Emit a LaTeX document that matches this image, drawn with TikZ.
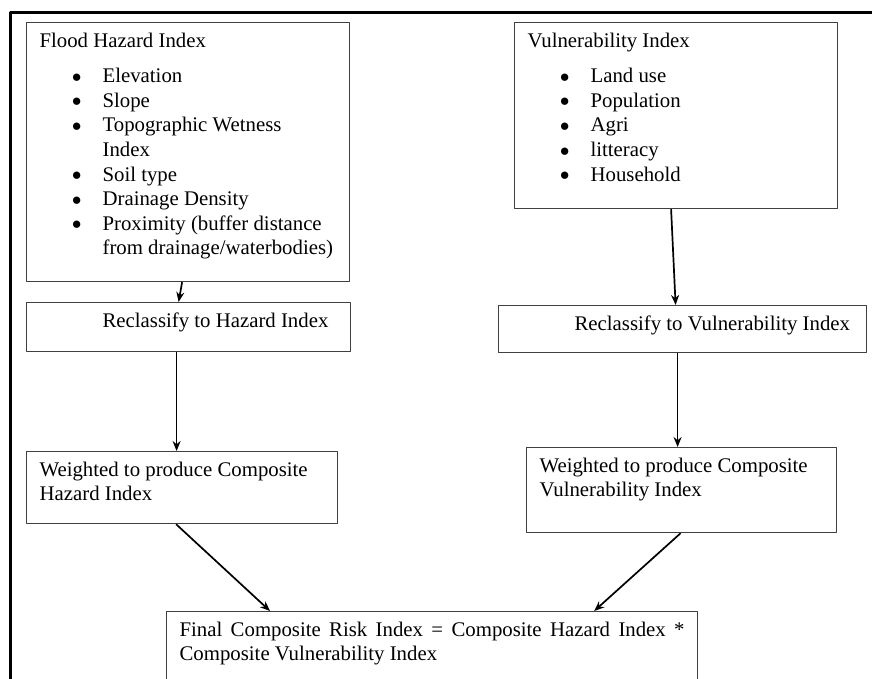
\documentclass[tikz,border=0pt]{standalone}
\usepackage{fontspec}
\setmainfont{Liberation Serif}
\usetikzlibrary{arrows.meta}
\newcommand{\panel}[3]{\parbox[c][#2][t]{#1}{\vspace*{10pt}#3}}
\newcommand{\bul}{\hspace*{32pt}\makebox[31pt][l]{\raisebox{0.3pt}{\fontsize{17}{17}\selectfont ●}}}

\begin{document}
\begin{tikzpicture}[x=1pt, y=-1pt, line join = round,
  box/.style={draw=black!75, line width=1.2pt, anchor=north west, inner xsep=13pt, inner ysep=0pt,
    font={\fontsize{20.8}{24.6}\selectfont}},
  flow/.style={-{Stealth[length=10pt, width=8pt]}, line width=1.7pt}]
\useasboundingbox (0,0) rectangle (872,679);
\clip (0,0) rectangle (872,679);
\draw[line width=3pt] (10,13) rectangle (900,720);

\node[box] (flood) at (26,22) {\panel{297pt}{259pt}{Flood Hazard Index\\[11pt]
  \bul Elevation\\
  \bul Slope\\
  \bul Topographic Wetness\\
  \hspace*{63pt}Index\\
  \bul Soil type\\
  \bul Drainage Density\\
  \bul Proximity (buffer distance\\
  \hspace*{63pt}from drainage/waterbodies)}};
\node[box] (vuln) at (514,22) {\panel{297pt}{186pt}{Vulnerability Index\\[11pt]
  \bul Land use\\
  \bul Population\\
  \bul Agri\\
  \bul litteracy\\
  \bul Household}};

\node[box] (rh) at (26,302) {\panel{298pt}{49pt}{\hspace*{63pt}Reclassify to Hazard Index}};
\node[box] (rv) at (498,305) {\panel{342pt}{47pt}{\hspace*{63pt}Reclassify to Vulnerability Index}};

\node[box] (wh) at (26,451) {\panel{285pt}{72pt}{Weighted to produce Composite\\Hazard Index}};
\node[box] (wv) at (526,447) {\panel{284pt}{85pt}{Weighted to produce Composite\\Vulnerability Index}};

\node[box] (final) at (166,611) {\panel{505pt}{80pt}{Final Composite Risk Index = Composite Hazard Index *\linebreak
  Composite Vulnerability Index}};

\draw[flow] ([xshift=-6pt]flood.south) -- ([xshift=-10pt]rh.north);
\draw[flow] ([xshift=-12pt]rh.south) -- ([xshift=-12pt]rh.south |- wh.north);
\draw[flow] ([xshift=-6pt]wh.south) -- ([xshift=104pt]final.north west);
\draw[flow] ([xshift=-5pt]vuln.south) -- ([xshift=-7pt]rv.north);
\draw[flow] ([xshift=-5pt]rv.south) -- ([xshift=-5pt]rv.south |- wv.north);
\draw[flow] ([xshift=-1pt]wv.south) -- ([xshift=-104pt]final.north east);
\end{tikzpicture}
\end{document}
